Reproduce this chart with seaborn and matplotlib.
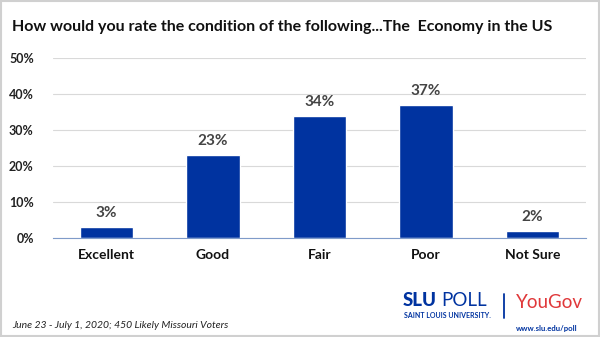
import matplotlib
matplotlib.use("Agg")
import matplotlib.pyplot as plt
import seaborn as sns
import pandas as pd

categories = ["Excellent", "Good", "Fair", "Poor", "Not Sure"]
values = [3, 23, 34, 37, 2]
yticks = [0, 10, 20, 30, 40, 50]

sns.set_theme(style="white")
plt.rcParams['font.family'] = ['Lato', 'DejaVu Sans']

W, H = 600, 337
fig = plt.figure(figsize=(6, 3.37), dpi=100)
ax = fig.add_axes([53.25 / W, 1 - 238 / H, (585.75 - 53.25) / W, (238 - 58) / H])

df = pd.DataFrame({"cat": categories, "val": values})
sns.barplot(data=df, x="cat", y="val", color="#0033a0", saturation=1, width=0.5, ax=ax)

ax.set_ylim(0, 50)
ax.set_xlim(-0.5, len(categories) - 0.5)
ax.set_yticks(yticks)
ax.set_yticklabels([f"{t}%" for t in yticks], fontsize=9, fontweight="bold", color="#222222")
ax.grid(axis="y", color="#d9d9d9", linewidth=0.8)
ax.set_axisbelow(True)
for s in ["top", "right", "left"]:
    ax.spines[s].set_visible(False)
ax.spines["bottom"].set_color("#7f9bc9")
ax.spines["bottom"].set_linewidth(0.8)
ax.tick_params(axis="y", length=0, pad=14)
ax.tick_params(axis="x", length=0, pad=8)
ax.set_xticks(range(len(categories)))
ax.set_xticklabels(categories, fontsize=10, fontweight="bold", color="#111111")
ax.set_xlabel("")
ax.set_ylabel("")

for i, v in enumerate(values):
    ax.annotate(f"{v}%", (i, v), xytext=(0, 5), textcoords="offset points",
                ha="center", va="bottom", fontsize=11, color="#444444", fontweight="bold")

fig.text(12 / W, 1 - 27 / H, "How would you rate the condition of the following...The  Economy in the US",
         fontsize=11.5, fontweight="bold", color="#111111", va="center", ha="left")

fig.text(12 / W, 1 - 325 / H, "June 23 - July 1, 2020; 450 Likely Missouri Voters",
         fontsize=7.5, style="italic", color="#222222", va="center", ha="left")

# logo text
fig.text(403 / W, 1 - 301 / H, "SLU", fontsize=13.5, fontweight="black", color="#0033a0", va="center", ha="left")
fig.text(441 / W, 1 - 301 / H, "POLL", fontsize=13.5, color="#0033a0", va="center", ha="left")
fig.text(404 / W, 1 - 316 / H, "SAINT LOUIS UNIVERSITY.", fontsize=5.0, fontweight="bold", color="#0033a0", va="center", ha="left")
fig.add_artist(plt.Line2D([504 / W, 504 / W], [1 - 294 / H, 1 - 318 / H], color="#0033a0", linewidth=1.3))
fig.text(516 / W, 1 - 302 / H, "YouGov", fontsize=13.5, color="#e0383a", va="center", ha="left")
fig.text(578 / W, 1 - 328 / H, "www.slu.edu/poll", fontsize=5.6, fontweight="bold", color="#0033a0", va="center", ha="right")

# border
fig.add_artist(plt.Rectangle((0.001, 0.002), 0.997, 0.995, fill=False, edgecolor="#d0d0d0",
                             linewidth=1.5, transform=fig.transFigure))

fig.savefig("out.png", dpi=100, facecolor="white")
